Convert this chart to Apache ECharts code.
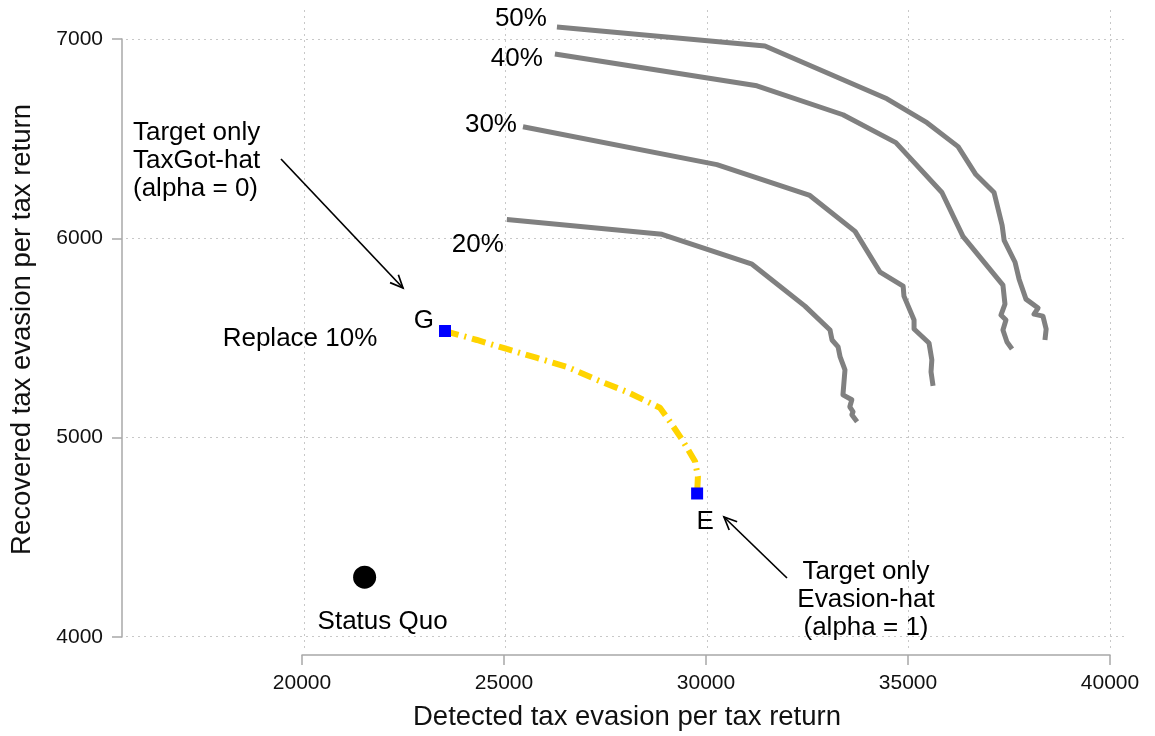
<!DOCTYPE html>
<html>
<head>
<meta charset="utf-8">
<script src="https://cdn.jsdelivr.net/npm/echarts@6/dist/echarts.min.js"></script>
<style>
  html, body { margin: 0; padding: 0; background: #fff; }
  #chart { width: 1155px; height: 736px; }
</style>
</head>
<body>
<div id="chart"></div>
<script>
// axis ticks
const xTicks = [20000, 25000, 30000, 35000, 40000];
const yTicks = [4000, 5000, 6000, 7000];

// frontier curves, [detected, recovered]
const shareNames = ['20%', '30%', '40%', '50%'];
const line20 = [[25070, 6095], [28910, 6020], [31140, 5870], [32450, 5660], [33070, 5540], [33120, 5490],
  [33270, 5455], [33320, 5405], [33440, 5340], [33390, 5215], [33610, 5190], [33560, 5155],
  [33640, 5130], [33610, 5115], [33740, 5080]];
const line30 = [[25470, 6560], [30270, 6370], [32570, 6215], [33690, 6035], [34310, 5830], [34880, 5760],
  [34900, 5710], [35150, 5590], [35150, 5545], [35520, 5475], [35590, 5390], [35570, 5330], [35620, 5260]];
const line40 = [[26260, 6925], [31260, 6765], [33390, 6620], [34700, 6480], [35840, 6230], [36360, 6010],
  [37350, 5765], [37400, 5670], [37300, 5615], [37425, 5590], [37350, 5540], [37450, 5480], [37575, 5445]];
const line50 = [[26310, 7060], [31460, 6965], [34480, 6700], [35470, 6580], [36240, 6460], [36680, 6320],
  [37130, 6230], [37330, 6065], [37380, 5990], [37650, 5880], [37750, 5795], [37920, 5695], [38220, 5650],
  [38120, 5620], [38340, 5610], [38420, 5545], [38390, 5490]];

// replace 10%: from G (alpha = 0) to E (alpha = 1)
const replace10 = [[23540, 5535], [24330, 5490], [25070, 5445], [25820, 5400], [26560, 5355], [27300, 5290],
  [28040, 5230], [28860, 5150], [29110, 5080], [29410, 4990], [29730, 4880], [29800, 4805], [29780, 4720]];
const endNames = ['G', 'E'];
const statusQuo = [21550, 4300];

// arrows [from, to] in data units
const arrowG = [[19480, 6398], [22500, 5751]];
const arrowE = [[32005, 4296], [30445, 4602]];

const FONT = 'Liberation Sans, Arial, sans-serif';
const GREY = '#808080';
const dotted = { color: '#c8c8c8', width: 1, type: [2, 4] };

// label placement for the percent tags (left of each curve start)
const tagPlace = {
  '20%': { distance: 3, offset: [0, 25] },
  '30%': { distance: 6, offset: [0, -2] },
  '40%': { distance: 12, offset: [0, 5] },
  '50%': { distance: 10, offset: [0, -8] }
};

function curve(name, pts) {
  const data = pts.map((p, i) => i === 0 ? {
    value: p,
    label: Object.assign({ show: true, position: 'left', formatter: '{a}',
      fontSize: 26, fontFamily: FONT, color: '#000' }, tagPlace[name])
  } : p);
  return {
    name: name, type: 'line', xAxisIndex: 0, yAxisIndex: 0, clip: false,
    showSymbol: true, symbolSize: 0, data: data,
    lineStyle: { color: GREY, width: 5, join: 'round' },
    itemStyle: { color: GREY }, z: 3
  };
}

const plain = v => String(v);

const chart = echarts.init(document.getElementById('chart'));
chart.setOption({
  animation: false,
  backgroundColor: '#fff',
  textStyle: { fontFamily: FONT },
  grid: [
    { left: 302, right: 45, top: 39, bottom: 99 },   // data
    { left: 302, right: 45, top: 10, bottom: 87 },   // vertical grid lines
    { left: 126, right: 27, top: 39, bottom: 99 }    // horizontal grid lines
  ],
  xAxis: [
    {
      gridIndex: 0, type: 'value', min: xTicks[0], max: xTicks[xTicks.length - 1],
      interval: xTicks[1] - xTicks[0], offset: 18,
      axisLine: { show: true, lineStyle: { color: '#a8a8a8', width: 1.5 } },
      axisTick: { show: true, length: 10, lineStyle: { color: '#a8a8a8', width: 1.5 } },
      axisLabel: { fontSize: 21, color: '#111', margin: 18, formatter: plain },
      splitLine: { show: false }
    },
    {
      gridIndex: 1, type: 'value', min: xTicks[0], max: xTicks[xTicks.length - 1],
      interval: xTicks[1] - xTicks[0],
      axisLine: { show: false }, axisTick: { show: false }, axisLabel: { show: false },
      splitLine: { show: true, lineStyle: dotted }
    },
    {
      gridIndex: 2, type: 'value', min: 0, max: 1,
      name: 'Detected tax evasion per tax return', nameLocation: 'middle', nameGap: 67,
      nameTextStyle: { fontSize: 27.5, color: '#111' },
      axisLine: { show: false }, axisTick: { show: false }, axisLabel: { show: false },
      splitLine: { show: false }
    }
  ],
  yAxis: [
    {
      gridIndex: 0, type: 'value', min: yTicks[0], max: yTicks[yTicks.length - 1],
      interval: yTicks[1] - yTicks[0], offset: 180,
      axisLine: { show: true, lineStyle: { color: '#a8a8a8', width: 1.5 } },
      axisTick: { show: true, length: 10, lineStyle: { color: '#a8a8a8', width: 1.5 } },
      axisLabel: { fontSize: 21, color: '#111', margin: 19, formatter: plain },
      splitLine: { show: false }
    },
    {
      gridIndex: 1, type: 'value', min: 0, max: 1,
      name: 'Recovered tax evasion per tax return', nameLocation: 'middle', nameGap: 268,
      nameTextStyle: { fontSize: 27.5, color: '#111' },
      axisLine: { show: false }, axisTick: { show: false }, axisLabel: { show: false },
      splitLine: { show: false }
    },
    {
      gridIndex: 2, type: 'value', min: yTicks[0], max: yTicks[yTicks.length - 1],
      interval: yTicks[1] - yTicks[0],
      axisLine: { show: false }, axisTick: { show: false }, axisLabel: { show: false },
      splitLine: { show: true, lineStyle: dotted }
    }
  ],
  series: [
    curve(shareNames[0], line20),
    curve(shareNames[1], line30),
    curve(shareNames[2], line40),
    curve(shareNames[3], line50),
    {
      name: 'Replace 10%', type: 'line', xAxisIndex: 0, yAxisIndex: 0, clip: false,
      showSymbol: false, data: replace10,
      lineStyle: { color: '#ffd400', width: 6, type: [14, 6, 2, 6], cap: 'butt' }, z: 4
    },
    {
      name: 'ends', type: 'scatter', xAxisIndex: 0, yAxisIndex: 0, clip: false,
      symbol: 'rect', symbolSize: 12, itemStyle: { color: '#0000ff', opacity: 1 }, z: 5,
      data: [
        { value: replace10[0], name: endNames[0],
          label: { show: true, formatter: '{b}', position: 'left', distance: 5, offset: [0, -10],
            fontSize: 26, color: '#000' } },
        { value: replace10[replace10.length - 1], name: endNames[1],
          label: { show: true, formatter: '{b}', position: 'bottom', distance: 9, offset: [8, 0],
            fontSize: 26, color: '#000' } }
      ]
    },
    {
      name: 'Status Quo', type: 'scatter', xAxisIndex: 0, yAxisIndex: 0, clip: false,
      symbol: 'circle', symbolSize: 23, itemStyle: { color: '#000', opacity: 1 }, z: 5,
      data: [statusQuo],
      label: { show: true, formatter: '{a}', position: 'bottom', distance: 20, offset: [18, 0],
        fontSize: 26, color: '#000' }
    }
  ]
});

// annotations and arrows
function arrow(pair) {
  const a = chart.convertToPixel({ gridIndex: 0 }, pair[0]);
  const b = chart.convertToPixel({ gridIndex: 0 }, pair[1]);
  const ang = Math.atan2(b[1] - a[1], b[0] - a[0]);
  const L = 14, w = 0.42;
  const h1 = [b[0] - L * Math.cos(ang - w), b[1] - L * Math.sin(ang - w)];
  const h2 = [b[0] - L * Math.cos(ang + w), b[1] - L * Math.sin(ang + w)];
  const st = { stroke: '#000', lineWidth: 1.7, fill: null };
  return [
    { type: 'line', shape: { x1: a[0], y1: a[1], x2: b[0], y2: b[1] }, style: st, z: 10 },
    { type: 'polyline', shape: { points: [h1, b, h2] }, style: st, z: 10 }
  ];
}

const textStyle = { font: '26px ' + FONT, fill: '#000', lineHeight: 28 };
chart.setOption({
  graphic: [].concat(
    arrow(arrowG),
    arrow(arrowE),
    [
      { type: 'text', x: 133, y: 119, z: 10,
        style: Object.assign({ text: 'Target only\nTaxGot-hat\n(alpha = 0)', align: 'left', verticalAlign: 'top' }, textStyle) },
      { type: 'text', x: 866, y: 558, z: 10,
        style: Object.assign({ text: 'Target only\nEvasion-hat\n(alpha = 1)', align: 'center', verticalAlign: 'top' }, textStyle) },
      { type: 'text', x: 300, y: 339, z: 10,
        style: Object.assign({ text: 'Replace 10%', align: 'center', verticalAlign: 'middle' }, textStyle) }
    ]
  )
});
</script>
</body>
</html>
